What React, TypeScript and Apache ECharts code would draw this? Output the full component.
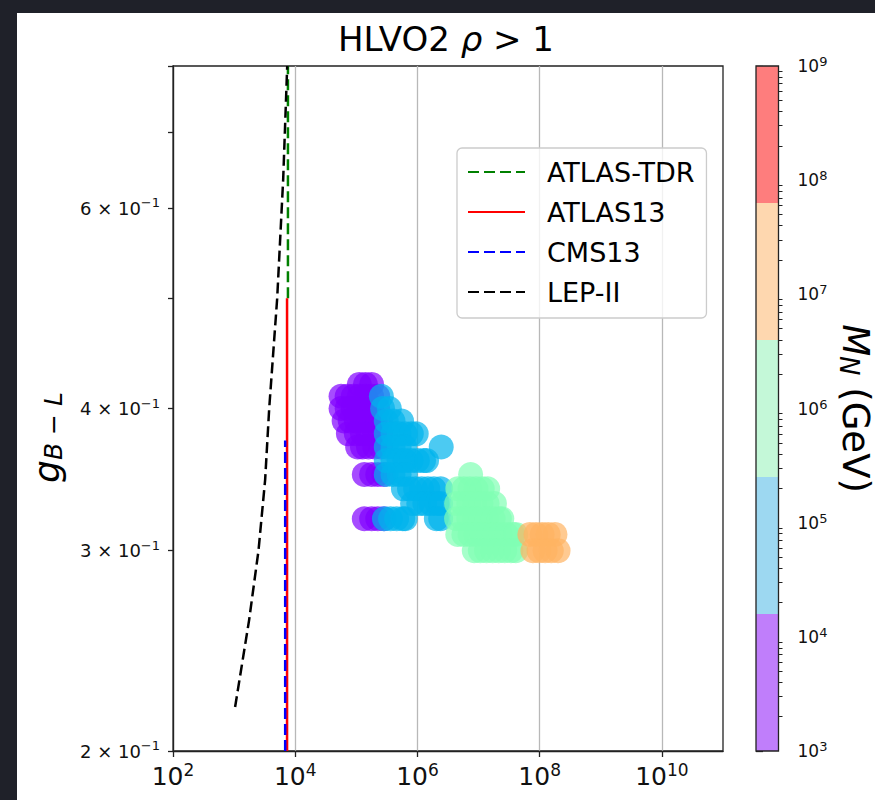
import React, { useEffect, useRef } from 'react';
import * as echarts from 'echarts';

const FONT = "'DejaVu Sans', sans-serif";

// axes
const xTicks = [1e2, 1e4, 1e6, 1e8, 1e10];
const yTicks = [0.2, 0.3, 0.4, 0.5, 0.6, 0.7, 0.8];
const yLabelValues = [0.2, 0.3, 0.4, 0.6];
const cbMajor = [1e3, 1e4, 1e5, 1e6, 1e7, 1e8, 1e9];
const cbMinorMultipliers = [2, 3, 4, 5, 6, 7, 8, 9];

// colour bar bins (M_N, GeV) and colours
const cbBounds = [1e3, 1.585e4, 2.512e5, 3.981e6, 6.31e7, 1e9];
const cbColors = ['#c07efb', '#9dd8f1', '#c4f8d8', '#fed7af', '#fe7d7d'];
const pointColors = ['#8000ff', '#00b4ec', '#80ffb4', '#ffb462', '#ff0000'];

// limit lines [M, g]
const atlasTDR = [[7600, 0.5], [7600, 0.8]];
const atlas13 = [[7350, 0.2], [7350, 0.5]];
const cms13 = [[6850, 0.2], [6850, 0.375]];
const lepII = [[1038, 0.2186], [1762, 0.2608], [2506, 0.3], [3221, 0.3464], [3750, 0.4], [5070, 0.5], [6353, 0.636], [7392, 0.8]];

// scan points [M, g]
const purplePts = [
  [1.12e5, 0.42], [1.41e5, 0.42], [1.78e5, 0.42],
  [5.62e4, 0.41], [7.08e4, 0.41], [8.91e4, 0.41], [1.12e5, 0.41], [1.41e5, 0.41], [1.78e5, 0.41], [2.24e5, 0.41],
  [5.62e4, 0.40], [7.08e4, 0.40], [8.91e4, 0.40], [1.12e5, 0.40], [1.41e5, 0.40], [1.78e5, 0.40], [2.24e5, 0.40],
  [6.31e4, 0.39], [7.94e4, 0.39], [1.0e5, 0.39], [1.26e5, 0.39], [1.58e5, 0.39], [2.0e5, 0.39], [2.51e5, 0.39],
  [7.41e4, 0.38], [1.0e5, 0.38], [1.26e5, 0.38], [1.58e5, 0.38], [2.0e5, 0.38], [2.51e5, 0.38],
  [1.05e5, 0.37], [1.26e5, 0.37], [1.58e5, 0.37], [2.0e5, 0.37], [2.51e5, 0.37],
  [1.35e5, 0.35], [1.78e5, 0.35], [2.24e5, 0.35], [2.82e5, 0.35],
  [1.35e5, 0.32], [1.78e5, 0.32], [2.24e5, 0.32], [2.82e5, 0.32],
];
const massPurple = 5e3;

const bluePts = [
  [2.57e5, 0.41],
  [2.69e5, 0.40], [3.47e5, 0.40],
  [3.09e5, 0.39], [3.98e5, 0.39], [5.5e5, 0.39],
  [3.09e5, 0.38], [3.98e5, 0.38], [5.01e5, 0.38], [6.31e5, 0.38], [7.94e5, 0.38], [9.55e5, 0.38],
  [3.09e5, 0.37], [3.98e5, 0.37], [5.01e5, 0.37], [6.17e5, 0.37], [2.45e6, 0.37],
  [3.09e5, 0.36], [3.98e5, 0.36], [5.01e5, 0.36], [6.31e5, 0.36], [7.94e5, 0.36], [1.0e6, 0.36], [1.26e6, 0.36], [1.41e6, 0.36],
  [3.09e5, 0.35], [3.98e5, 0.35], [5.01e5, 0.35], [6.31e5, 0.35],
  [5.89e5, 0.34], [7.41e5, 0.34], [9.33e5, 0.34], [1.17e6, 0.34], [1.48e6, 0.34], [1.86e6, 0.34], [2.4e6, 0.34],
  [8.32e5, 0.33], [1.05e6, 0.33], [1.32e6, 0.33], [1.66e6, 0.33], [2.09e6, 0.33], [2.4e6, 0.33],
  [2.88e5, 0.32], [3.63e5, 0.32], [4.57e5, 0.32], [5.75e5, 0.32], [6.31e5, 0.32], [2.04e6, 0.32], [2.4e6, 0.32],
];
const massBlue = 8e4;

const greenPts = [
  [7.41e6, 0.35],
  [4.57e6, 0.34], [5.75e6, 0.34], [7.24e6, 0.34], [9.12e6, 0.34], [1.15e7, 0.34], [1.41e7, 0.34],
  [4.37e6, 0.33], [5.5e6, 0.33], [6.92e6, 0.33], [8.71e6, 0.33], [1.1e7, 0.33], [1.38e7, 0.33], [1.82e7, 0.33],
  [4.37e6, 0.32], [5.5e6, 0.32], [6.92e6, 0.32], [8.71e6, 0.32], [1.1e7, 0.32], [1.38e7, 0.32], [1.74e7, 0.32], [2.19e7, 0.32], [2.4e7, 0.32],
  [4.57e6, 0.31], [5.75e6, 0.31], [7.24e6, 0.31], [9.12e6, 0.31], [1.15e7, 0.31], [1.45e7, 0.31], [1.82e7, 0.31], [2.29e7, 0.31], [2.88e7, 0.31], [3.63e7, 0.31], [4.07e7, 0.31],
  [8.51e6, 0.30], [1.07e7, 0.30], [1.35e7, 0.30], [1.7e7, 0.30], [2.14e7, 0.30], [2.69e7, 0.30], [3.39e7, 0.30], [4.07e7, 0.30],
];
const massGreen = 1.5e6;

const orangePts = [
  [6.92e7, 0.31], [8.71e7, 0.31], [1.1e8, 0.31], [1.38e8, 0.31], [1.78e8, 0.31],
  [7.76e7, 0.30], [9.77e7, 0.30], [1.23e8, 0.30], [1.55e8, 0.30], [2.0e8, 0.30],
];
const massOrange = 2e7;

const scatterData = [
  ...purplePts.map((p) => [p[0], p[1], massPurple]),
  ...bluePts.map((p) => [p[0], p[1], massBlue]),
  ...greenPts.map((p) => [p[0], p[1], massGreen]),
  ...orangePts.map((p) => [p[0], p[1], massOrange]),
];

const cbMinor = cbMajor.slice(0, -1).flatMap((d) => cbMinorMultipliers.map((m) => m * d));

const dash = [11, 5];

function buildOption(): any {
  const supExp = (v: number) => `{b|10}{sup|${Math.round(Math.log10(v))}}`;
  return {
    animation: false,
    backgroundColor: 'transparent',
    textStyle: { fontFamily: FONT },
    title: {
      text: 'HLVO2 {i|ρ} > 1',
      left: 333,
      top: 17,
      textStyle: {
        fontFamily: FONT, fontSize: 34, fontWeight: 'normal', color: '#000',
        rich: { i: { fontFamily: FONT, fontSize: 34, fontStyle: 'italic', color: '#000' } },
      },
    },
    legend: {
      data: ['ATLAS-TDR', 'ATLAS13', 'CMS13', 'LEP-II'],
      orient: 'vertical',
      left: 457,
      top: 148,
      itemWidth: 57,
      itemHeight: 14,
      itemGap: 10,
      padding: [9, 12, 11, 10],
      selectedMode: false,
      itemStyle: { opacity: 0 },
      textStyle: { fontFamily: FONT, fontSize: 27, color: '#000', lineHeight: 30, padding: [0, 0, 0, 17] },
      backgroundColor: 'rgba(255,255,255,0.8)',
      borderColor: '#cccccc',
      borderWidth: 1.3,
      borderRadius: 5,
    },
    visualMap: {
      type: 'piecewise',
      show: false,
      seriesIndex: 4,
      dimension: 2,
      pieces: cbColors.map((_, i) => ({ gte: cbBounds[i], lt: cbBounds[i + 1], color: pointColors[i] })),
    },
    grid: [
      { left: 173, top: 66, width: 550, height: 685, show: true, borderColor: '#222', borderWidth: 1.3, backgroundColor: 'transparent', containLabel: false },
      { left: 756, top: 66, width: 34, height: 685, show: false, containLabel: false },
    ],
    xAxis: [
      {
        type: 'log', logBase: 10, gridIndex: 0, min: 1e2, max: 1e11,
        axisLine: { show: true, lineStyle: { color: '#222', width: 1.3 } },
        axisTick: { show: true, customValues: xTicks, length: 6, lineStyle: { color: '#222', width: 1.3 } },
        axisLabel: {
          customValues: xTicks, formatter: supExp, margin: 10,
          fontFamily: FONT, fontSize: 25, lineHeight: 30, color: '#111',
          rich: {
            b: { fontFamily: FONT, fontSize: 25, lineHeight: 30, color: '#111' },
            sup: { fontFamily: FONT, fontSize: 17, lineHeight: 18, verticalAlign: 'top', color: '#111' },
          },
        },
        splitLine: { show: true, lineStyle: { color: '#b8b8b8', width: 1.3 } },
        minorTick: { show: false },
      },
      { type: 'value', gridIndex: 1, min: 0, max: 1, show: false },
    ],
    yAxis: [
      {
        type: 'log', logBase: 10, gridIndex: 0, min: 0.2, max: 0.8,
        axisLine: { show: true, lineStyle: { color: '#222', width: 1.3 } },
        axisTick: { show: true, customValues: yTicks, length: 5, lineStyle: { color: '#222', width: 1.3 } },
        axisLabel: {
          customValues: yLabelValues,
          formatter: (v: number) => `{b|${Math.round(v * 10)} × 10}{sup|−1}`,
          margin: 13, fontFamily: FONT, fontSize: 18, lineHeight: 24, color: '#111',
          rich: {
            b: { fontFamily: FONT, fontSize: 18, lineHeight: 24, color: '#111' },
            sup: { fontFamily: FONT, fontSize: 13, lineHeight: 14, verticalAlign: 'top', color: '#111' },
          },
        },
        splitLine: { show: false },
        name: '{i|g}{s|B − L}',
        nameLocation: 'middle',
        nameRotate: 90,
        nameGap: 107,
        nameTextStyle: {
          fontFamily: FONT, color: '#000',
          padding: [0, 58, 0, 0],
          rich: {
            i: { fontFamily: FONT, fontSize: 36, fontStyle: 'italic', lineHeight: 40, color: '#000' },
            s: { fontFamily: FONT, fontSize: 25, fontStyle: 'italic', lineHeight: 16, verticalAlign: 'bottom', color: '#000' },
          },
        },
      },
      {
        type: 'log', logBase: 10, gridIndex: 1, min: 1e3, max: 1e9, position: 'right',
        axisLine: { show: false },
        axisTick: { show: true, customValues: cbMajor, length: 7, lineStyle: { color: '#222', width: 1.3 } },
        axisLabel: {
          customValues: cbMajor, formatter: supExp, margin: 19,
          fontFamily: FONT, fontSize: 17, lineHeight: 22, color: '#111',
          rich: {
            b: { fontFamily: FONT, fontSize: 17, lineHeight: 22, color: '#111' },
            sup: { fontFamily: FONT, fontSize: 13, lineHeight: 12, verticalAlign: 'top', color: '#111' },
          },
        },
        splitLine: { show: false },
        name: '{i|M}{s|N}{r| (GeV)}',
        nameLocation: 'middle',
        nameRotate: -90,
        nameGap: 57,
        nameTextStyle: {
          fontFamily: FONT, color: '#000',
          rich: {
            i: { fontFamily: FONT, fontSize: 37, fontStyle: 'italic', lineHeight: 40, color: '#000' },
            s: { fontFamily: FONT, fontSize: 26, fontStyle: 'italic', lineHeight: 16, verticalAlign: 'bottom', color: '#000' },
            r: { fontFamily: FONT, fontSize: 37, lineHeight: 40, color: '#000' },
          },
        },
      },
      {
        type: 'log', logBase: 10, gridIndex: 1, min: 1e3, max: 1e9, position: 'right',
        axisLine: { show: false },
        axisTick: { show: true, customValues: cbMinor, length: 4, lineStyle: { color: '#222', width: 1 } },
        axisLabel: { show: false },
        splitLine: { show: false },
      },
    ],
    series: [
      { name: 'ATLAS-TDR', type: 'line', xAxisIndex: 0, yAxisIndex: 0, data: atlasTDR, symbol: 'none', color: '#008000', lineStyle: { color: '#008000', width: 2.5, type: dash } },
      { name: 'ATLAS13', type: 'line', xAxisIndex: 0, yAxisIndex: 0, data: atlas13, symbol: 'none', color: '#ff0000', lineStyle: { color: '#ff0000', width: 2.5, type: 'solid' } },
      { name: 'CMS13', type: 'line', xAxisIndex: 0, yAxisIndex: 0, data: cms13, symbol: 'none', color: '#0000ff', lineStyle: { color: '#0000ff', width: 2.5, type: dash } },
      { name: 'LEP-II', type: 'line', xAxisIndex: 0, yAxisIndex: 0, data: lepII, symbol: 'none', color: '#000000', lineStyle: { color: '#000000', width: 2.5, type: dash } },
      {
        name: 'scan', type: 'scatter', xAxisIndex: 0, yAxisIndex: 0, data: scatterData,
        symbolSize: 25, itemStyle: { opacity: 0.7 },
      },
      {
        name: 'colorbar', type: 'scatter', xAxisIndex: 1, yAxisIndex: 1, data: [[0.5, 1e3]], symbolSize: 0,
        silent: true,
        markArea: {
          silent: true,
          data: [
            ...cbColors.map((c, i) => [
              { xAxis: 0, yAxis: cbBounds[i], itemStyle: { color: c, borderWidth: 0 } },
              { xAxis: 1, yAxis: cbBounds[i + 1] },
            ]),
            [
              { xAxis: 0, yAxis: cbBounds[0], itemStyle: { color: 'rgba(0,0,0,0)', borderColor: '#222', borderWidth: 1.3 } },
              { xAxis: 1, yAxis: cbBounds[cbBounds.length - 1] },
            ],
          ],
        },
      },
    ],
  };
}

export default function App() {
  const ref = useRef<HTMLDivElement>(null);
  useEffect(() => {
    const chart = echarts.init(ref.current as HTMLDivElement, null, { renderer: 'svg' });
    chart.setOption(buildOption());
    return () => chart.dispose();
  }, []);
  return (
    <div style={{ position: 'absolute', left: 0, top: 0, width: 875, height: 800, background: '#1f2129', overflow: 'hidden' }}>
      <div style={{ position: 'absolute', left: 17, top: 13, width: 858, height: 787, background: '#ffffff' }} />
      <div ref={ref} style={{ position: 'absolute', left: 0, top: 0, width: 875, height: 800 }} />
    </div>
  );
}
